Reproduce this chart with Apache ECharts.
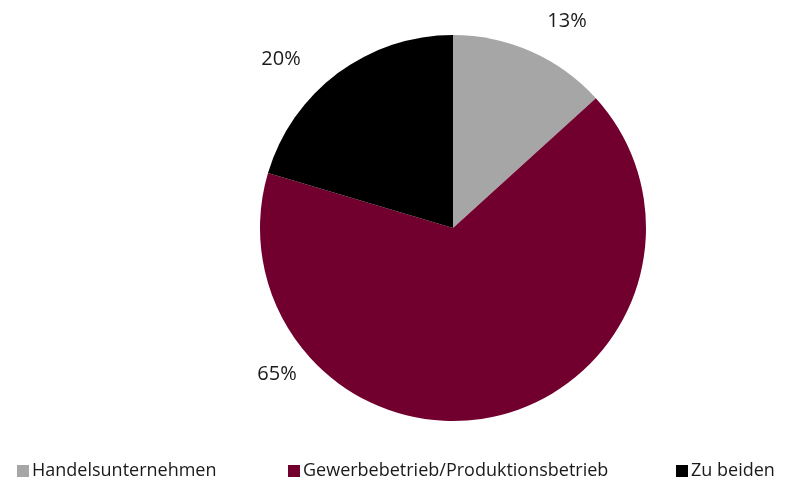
<!DOCTYPE html>
<html>
<head>
<meta charset="utf-8">
<script src="https://cdn.jsdelivr.net/npm/echarts@6/dist/echarts.min.js"></script>
<style>
  html, body { margin: 0; padding: 0; background: #fff; }
  #chart { width: 787px; height: 479px; }
</style>
</head>
<body>
<div id="chart"></div>
<script>
const categories = ['Handelsunternehmen', 'Gewerbebetrieb/Produktionsbetrieb', 'Zu beiden']
const values = [13, 65, 20]
const colors = ['#a6a6a6', '#72002e', '#000000']

// where Excel put the data labels (centre of text)
const labelPos = [[567, 21], [277, 374], [281, 59]]
const legendLeft = [12, 283, 671]

const chart = echarts.init(document.getElementById('chart'))

const font = '"Open Sans", "Noto Sans", sans-serif'

const option = {
  animation: false,
  color: colors,
  legend: categories.map((name, i) => ({
    data: [name],
    left: legendLeft[i],
    top: 457,
    icon: 'rect',
    itemWidth: 12,
    itemHeight: 12,
    itemGap: 4,
    textStyle: { fontFamily: font, fontSize: 18, color: '#1a1a1a', padding: [0, 0, 0, -2] }
  })),
  series: [
    {
      type: 'pie',
      center: [453, 228],
      radius: 193,
      startAngle: 90,
      clockwise: true,
      data: categories.map((name, i) => ({ name, value: values[i] })),
      label: {
        show: true,
        position: 'outside',
        formatter: '{c}%',
        fontFamily: font,
        fontSize: 20,
        color: '#1a1a1a'
      },
      labelLine: { show: false },
      labelLayout: (params) => ({
        x: labelPos[params.dataIndex][0],
        y: labelPos[params.dataIndex][1],
        align: 'center',
        verticalAlign: 'middle'
      }),
      emphasis: { disabled: true }
    }
  ]
}

chart.setOption(option)
</script>
</body>
</html>
